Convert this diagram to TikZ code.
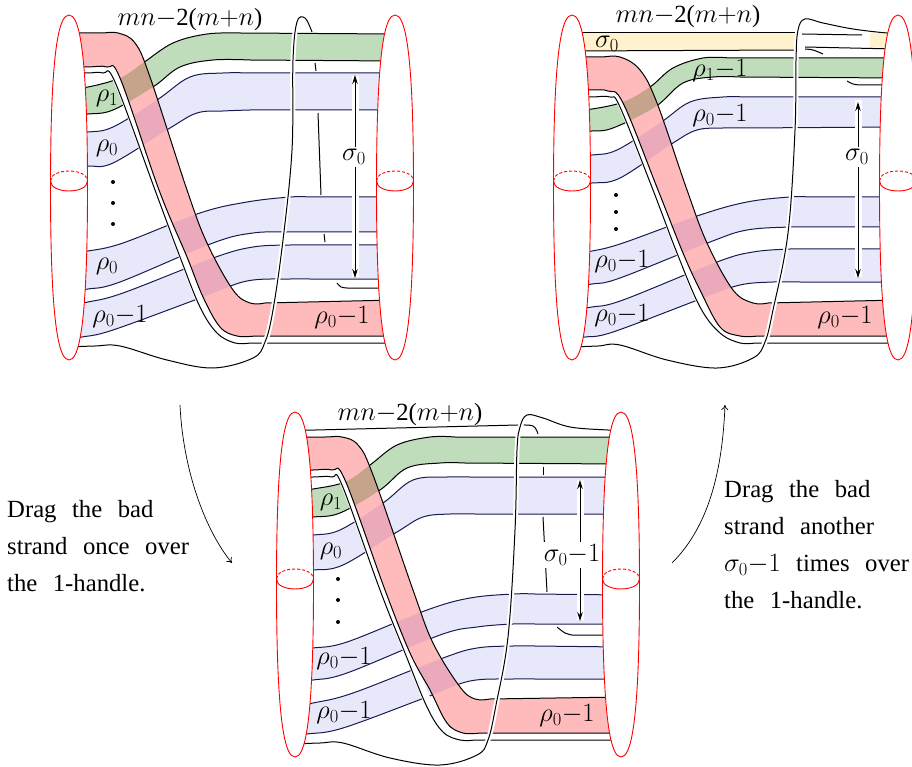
\RequirePackage{fix-cm}
\documentclass[tikz,border=0pt]{standalone}
\usepackage{fontspec}
\setmainfont{Liberation Serif}
\usetikzlibrary{arrows.meta}
\DeclareMathSizes{24.7}{26.5}{18.5}{13.3}
\definecolor{rb}{HTML}{FFBBBB}
\definecolor{gb}{HTML}{BFDDBB}
\definecolor{bb}{HTML}{E8E8FB}
\definecolor{yb}{HTML}{FFF2CC}
\definecolor{xg}{HTML}{C6A48C}
\definecolor{xb}{HTML}{EBA9BC}
\definecolor{navyline}{HTML}{1A1A50}
\newcommand\sk{\spaceskip=15.5pt\relax}
\newcommand\mnl{$mn{-}\mbox{2(}m{+}n\mbox{)}$}
\tikzset{
  sm/.style={smooth,tension=.6},
  lbl/.style={font=\fontsize{24.7}{37}\selectfont,inner sep=0pt,yshift=-1pt},
  para/.style={font=\fontsize{24.7}{37}\selectfont,inner sep=0pt,align=left,anchor=north west},
  edge/.style={draw=black,line width=1pt},
  handle/.style={draw=red,fill=white,line width=.9pt},
  sarrow/.style={line width=1pt,{Stealth[length=9pt,width=5.5pt]}-{Stealth[length=9pt,width=5.5pt]}},
  dot/.style={circle,fill=black,inner sep=0pt,minimum size=4pt},
  move/.style={line width=.7pt,-{To[length=5pt,width=7pt]}}
}
% handle with its belt circle: centre x, top y, belt y
\newcommand\Handle[3]{%
  \draw[handle] (#1,#2) .. controls +(9.5,0) and +(0,-142.5) .. ({#1+18.5},{#2+172.5})
     .. controls +(0,142.5) and +(9.5,0) .. (#1,{#2+345})
     .. controls +(-9.5,0) and +(0,142.5) .. ({#1-18.5},{#2+172.5})
     .. controls +(0,-142.5) and +(-9.5,0) .. cycle;
  \draw[red,line width=.9pt] ({#1-18.5},#3) .. controls +(0,13.3) and +(0,13.3) .. ({#1+18.5},#3);
  \draw[red,line width=.9pt,dash pattern=on 3pt off 2pt] ({#1-18.5},#3) .. controls +(0,-13.3) and +(0,-13.3) .. ({#1+18.5},#3);
}
% uses \GreenP \BlueP \RedP \ThinP
\newcommand\Layers{%
  \draw[edge,draw=navyline,fill=bb] \BlueP;
  \draw[edge,fill=gb] \GreenP;
  \draw[white,line width=8pt,xshift=3pt] \ThinP;
  \draw[edge] \ThinP;
  \fill[rb] \RedP;
  \begin{scope}
    \clip \RedP;
    \fill[xg] \GreenP;
    \fill[xb] \BlueP;
  \end{scope}
  \draw[edge] \RedP;
}
\begin{document}
\begin{tikzpicture}[x=1pt,y=-1pt]
\useasboundingbox (0,0) rectangle (912,767);

%%%%%%%%%%%%%%%% panel 1
\def\RedP{plot[sm] coordinates {(69,33)(100,33)(118,33)(135,43)(150,77)(187,190)(207,243)(233,290)(250,303)(265,303)} -- (395,300) -- (395,336) -- plot[sm] coordinates {(255,336)(237,336)(220,327)(203,297)(187,257)(159,190)(120,78)(107,67)(88,67)(69,67)} -- cycle}
\def\ThinP{plot[sm] coordinates {(69,73)(88,73)(103,73)(115,82)(155,190)(180,257)(200,307)(217,333)(235,343)(250,343)} -- (395,343)}
\def\GreenP{plot[sm] coordinates {(69,88)(88,87)(120,78)(143,63)(173,43)(207,34)(240,33)} -- (395,34) -- (395,61) -- plot[sm] coordinates {(250,60)(213,60)(180,67)(153,87)(113,110)(88,114)(69,115)} -- cycle}
\def\BlueP{plot[sm] coordinates {(69,132)(88,132)(113,127)(157,100)(190,77)(223,73)(250,73)} -- (395,73) -- (395,110) -- plot[sm] coordinates {(250,110)(223,111)(197,113)(170,128)(113,163)(88,166)(69,167)} -- cycle
 plot[sm] coordinates {(69,253)(88,251)(123,243)(200,213)(247,202)(290,197)(310,197)} -- (395,197) -- (395,232) -- plot[sm] coordinates {(310,232)(287,232)(253,233)(213,243)(120,282)(88,289)(69,291)} -- cycle
 plot[sm] coordinates {(69,305)(88,302)(123,293)(213,258)(253,247)(290,245)(310,245)} -- (395,245) -- (395,279) -- plot[sm] coordinates {(310,279)(290,279)(247,281)(203,297)(113,330)(82,337)(69,339)} -- cycle}
\Layers
% under parts of the bad strand
\draw[edge] (315,63) -- (316,71);
\draw[edge] (318,113) -- (321,195);
\draw[edge] (324,234) -- (325,242);
\draw[edge] plot[sm] coordinates {(337,283)(341,287)(347,288)} -- (385,288);
% bad strand, over
\def\BadP{plot[sm] coordinates {(69,347)(95,346)(120,346)(167,360)(213,368)(253,358)(265,342)(273,310)(283,240)(292,150)(293,60)(297,22)(305,18)(312,32)}}
\draw[white,line width=5pt] \BadP;
\draw[edge] \BadP;
\Handle{69}{15}{181}
\Handle{395}{15}{181}
\draw[white,line width=7pt] (355,76) -- (355,277);
\draw[sarrow] (355,75) -- (355,278);
\node[lbl,fill=white,inner ysep=2pt] (a0) at (354,156) {$\sigma_0$};
\node[lbl] (a1) at (190,19) {\mnl};
\node[lbl] (a2) at (107,97) {$\rho_1$};
\node[lbl] (a3) at (107,147) {$\rho_0$};
\node[lbl] (a4) at (107,265) {$\rho_0$};
\node[lbl] (a5) at (120,316) {$\rho_0{-}1$};
\node[lbl] (a6) at (342,317) {$\rho_0{-}1$};
\node[dot] (ad1) at (113,182) {};
\node[dot] (ad2) at (113,203) {};
\node[dot] (ad3) at (113,224) {};

%%%%%%%%%%%%%%%% panel 2
\fill[yb] (572,33) -- (798,33) -- (798,50) -- (572,51) -- cycle;
\fill[yb] (870,33) -- (895,33) -- (895,50) -- (870,48) -- cycle;
\draw[edge] (572,33) -- (796,33);
\draw[edge] (572,51) -- (796,50);
\draw[edge] (802,34) -- (862,35);
\draw[edge] (805,47) -- (895,49);
\draw[edge] plot[sm] coordinates {(805,49)(813,50)(823,54)};
\def\RedP{plot[sm] coordinates {(572,57)(600,57)(620,57)(640,70)(657,103)(687,190)(707,243)(733,290)(753,303)(768,303)} -- (898,300) -- (898,336) -- plot[sm] coordinates {(758,336)(740,336)(720,327)(700,290)(683,253)(658,190)(623,103)(608,91)(592,90)(572,90)} -- cycle}
\def\ThinP{plot[sm] coordinates {(572,97)(592,97)(610,97)(620,107)(653,190)(677,253)(700,307)(720,333)(740,343)(755,343)} -- (898,343)}
\def\GreenP{plot[sm] coordinates {(572,110)(592,109)(623,102)(650,87)(673,68)(703,58)(730,58)} -- (898,58) -- (898,78) -- plot[sm] coordinates {(740,77)(713,77)(683,83)(655,107)(613,128)(592,131)(572,132)} -- cycle}
\def\BlueP{plot[sm] coordinates {(572,156)(592,155)(617,150)(660,123)(690,102)(723,97)(745,97)} -- (898,97) -- (898,127) -- plot[sm] coordinates {(745,128)(723,128)(697,130)(673,143)(620,178)(592,183)(572,184)} -- cycle
 plot[sm] coordinates {(572,253)(592,251)(623,243)(700,215)(747,202)(790,197)(810,197)} -- (898,197) -- (898,227) -- plot[sm] coordinates {(810,227)(790,227)(747,230)(710,242)(620,278)(592,284)(572,286)} -- cycle
 plot[sm] coordinates {(572,309)(592,307)(623,300)(717,262)(753,252)(790,249)(810,249)} -- (898,249) -- (898,282) -- plot[sm] coordinates {(800,282)(773,282)(740,285)(703,298)(613,332)(585,337)(572,339)} -- cycle}
\Layers
\draw[edge] plot[sm] coordinates {(847,81)(853,84)(860,85)} -- (890,85);
\def\BadA{plot[sm] coordinates {(572,347)(598,346)(620,345)(667,360)(717,368)(753,358)(765,342)(773,310)(788,233)(795,130)(796,60)(798,30)(805,19)}}
\draw[white,line width=5pt] \BadA;
\draw[edge] plot[sm] coordinates {(572,347)(598,346)(620,345)(667,360)(717,368)(753,358)(765,342)(773,310)(788,233)(795,130)(796,60)(798,30)(805,19)(823,23)(853,29)(887,33)(900,33)};
\Handle{572}{15}{181}
\Handle{898}{15}{181}
\draw[white,line width=7pt] (858,100) -- (858,277);
\draw[sarrow] (858,102) -- (858,278);
\node[lbl,fill=white,inner ysep=2pt] (b0) at (857,156) {$\sigma_0$};
\node[lbl] (b1) at (688,16) {\mnl};
\node[lbl] (b2) at (607,43) {$\sigma_0$};
\node[lbl] (b3) at (720,70) {$\rho_1{-}1$};
\node[lbl] (b4) at (720,115) {$\rho_0{-}1$};
\node[lbl] (b5) at (622,261) {$\rho_0{-}1$};
\node[lbl] (b6) at (622,315) {$\rho_0{-}1$};
\node[lbl] (b7) at (845,317) {$\rho_0{-}1$};
\node[dot] (bd1) at (616,195) {};
\node[dot] (bd2) at (616,212) {};
\node[dot] (bd3) at (616,229) {};

%%%%%%%%%%%%%%%% panel 3
\def\RedP{plot[sm] coordinates {(295,437)(325,437)(342,437)(358,445)(373,475)(413,590)(433,643)(460,687)(475,699)(490,699)} -- (621,697) -- (621,733) -- plot[sm] coordinates {(480,733)(463,733)(447,723)(430,690)(410,653)(385,590)(345,480)(332,470)(313,470)(295,470)} -- cycle}
\def\ThinP{plot[sm] coordinates {(295,477)(313,477)(332,477)(342,485)(380,590)(405,653)(427,707)(443,732)(460,740)(475,740)} -- (621,740)}
\def\GreenP{plot[sm] coordinates {(295,491)(313,489)(345,482)(370,465)(397,445)(430,437)(455,437)} -- (621,437) -- (621,464) -- plot[sm] coordinates {(465,463)(440,463)(407,468)(380,490)(340,513)(313,517)(295,518)} -- cycle}
\def\BlueP{plot[sm] coordinates {(295,536)(313,535)(340,530)(383,503)(413,480)(447,477)(470,477)} -- (621,477) -- (621,514) -- plot[sm] coordinates {(475,514)(450,514)(423,517)(397,532)(343,565)(313,570)(295,571)} -- cycle
 plot[sm] coordinates {(295,650)(313,648)(347,642)(427,610)(470,598)(513,594)(535,594)} -- (621,595) -- (621,624) -- plot[sm] coordinates {(535,624)(513,624)(477,627)(440,635)(347,673)(313,680)(295,682)} -- cycle
 plot[sm] coordinates {(295,706)(313,703)(353,693)(443,658)(477,648)(513,646)(535,646)} -- (621,647) -- (621,679) -- plot[sm] coordinates {(535,679)(513,679)(470,681)(427,697)(343,728)(307,734)(295,736)} -- cycle}
\Layers
\draw[edge] (295,430.5) -- (518,425);
\draw[edge] plot[sm] coordinates {(518,425)(533,426)(538,434)};
\draw[edge] (543,467) -- (543,475);
\draw[edge] (543,517) -- (547,592);
\draw[edge] plot[sm] coordinates {(557,627)(565,633)(572,635)} -- (610,635);
\def\BadB{plot[sm] coordinates {(295,744)(320,743)(343,743)(390,758)(440,765)(477,755)(488,740)(496,705)(508,637)(515,530)(517,450)(520,427)(527,415)}}
\draw[white,line width=5pt] \BadB;
\draw[edge] plot[sm] coordinates {(295,744)(320,743)(343,743)(390,758)(440,765)(477,755)(488,740)(496,705)(508,637)(515,530)(517,450)(520,427)(527,415)(543,418)(570,427)(608,430)(621,430)};
\Handle{295}{412}{579}
\Handle{621}{412}{579}
\draw[white,line width=7pt] (580,480) -- (580,620);
\draw[sarrow] (580,480) -- (580,621);
\node[lbl,fill=white,inner ysep=2pt,inner xsep=1pt] (c0) at (572,554) {$\sigma_0{-}1$};
\node[lbl] (c1) at (410,414) {\mnl};
\node[lbl] (c2) at (331,501) {$\rho_1$};
\node[lbl] (c3) at (331,550) {$\rho_0$};
\node[lbl] (c4) at (344,658) {$\rho_0{-}1$};
\node[lbl] (c5) at (344,712) {$\rho_0{-}1$};
\node[lbl] (c6) at (567,715) {$\rho_0{-}1$};
\node[dot] (cd1) at (338,579) {};
\node[dot] (cd2) at (338,600) {};
\node[dot] (cd3) at (338,622) {};

%%%%%%%%%%%%%%%% text and moves
\node[para] (t1) at (7,500) {\sk Drag the bad\\\sk strand once over\\\sk the 1-handle.};
\node[para] (t2) at (724,480) {\sk Drag the bad\\\sk strand another\\\sk $\sigma_0{-}1$ times over\\\sk the 1-handle.};
\coordinate (m1a) at (180,405);
\coordinate (m1b) at (232,563);
\coordinate (m2a) at (672,563);
\coordinate (m2b) at (725,405);
\draw[move] (m1a) .. controls (183,470) and (205,530) .. (m1b);
\draw[move] (m2a) .. controls (705,530) and (722,480) .. (m2b);
\end{tikzpicture}
\end{document}
